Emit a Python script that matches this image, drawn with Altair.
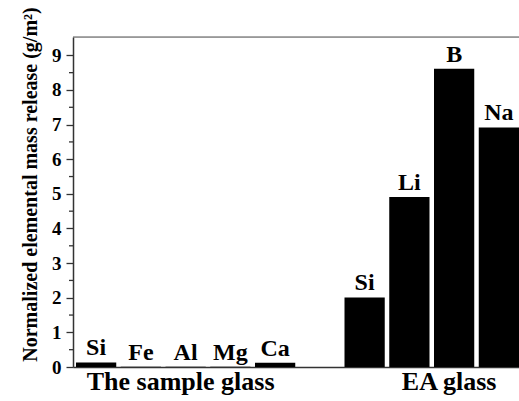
import altair as alt
import pandas as pd

# ---- data ----
sample_elements = ["Si", "Fe", "Al", "Mg", "Ca"]
sample_values = [0.13, 0.01, 0.01, 0.01, 0.12]
ea_elements = ["Si", "Li", "B", "Na"]
ea_values = [2.01, 4.91, 8.61, 6.92]
group_names = ["The sample glass", "EA glass"]
y_ticks = [0, 1, 2, 3, 4, 5, 6, 7, 8, 9]
y_minor = [0.5, 1.5, 2.5, 3.5, 4.5, 5.5, 6.5, 7.5, 8.5]

sample_keys = ["sample|" + e for e in sample_elements]
ea_keys = ["ea|" + e for e in ea_elements]
x_domain = sample_keys + ["gap"] + ea_keys

bars = pd.DataFrame({
    "key": sample_keys + ea_keys,
    "element": sample_elements + ea_elements,
    "value": sample_values + ea_values,
})
groups = pd.DataFrame({
    "group": group_names,
    "anchor": [sample_keys[2], ea_keys[2]],
})
minor = pd.DataFrame({"v": y_minor})

FONT = "Liberation Serif"
W, H = 446, 330

xscale = alt.Scale(domain=x_domain, paddingInner=0.1006, paddingOuter=0.0335, align=1)
yscale = alt.Scale(domain=[0, 9.53], nice=False, zero=True)

x_axis = alt.Axis(labels=False, ticks=False, title=None, domain=True,
                  domainColor="#333", domainWidth=1.5, grid=False)
y_axis = alt.Axis(values=y_ticks,
                  title="Normalized elemental mass release (g/m²)",
                  titleFont=FONT, titleFontSize=20, titleFontWeight="bold",
                  titleColor="black", titleAngle=-90, titleX=-37, titleY=147,
                  titleAlign="center", titleBaseline="alphabetic",
                  labelFont=FONT, labelFontSize=19, labelFontWeight="bold",
                  labelColor="black", labelPadding=5, labelOverlap=False,
                  labelBaseline="middle",
                  tickSize=7, tickWidth=1.3, tickColor="#333",
                  domainColor="#333", domainWidth=1.5, grid=False)

X = alt.X("key:N", scale=xscale, sort=x_domain, axis=x_axis, title=None)
Y = alt.Y("value:Q", scale=yscale, axis=y_axis,
          title="Normalized elemental mass release (g/m²)")

base = alt.Chart(bars)

bar = base.mark_bar(color="black").encode(x=X, y=Y)

labels = base.mark_text(font=FONT, fontSize=24, fontWeight="bold", color="black",
                        baseline="alphabetic", dy=-7).encode(
    x=X, y=Y, text="element:N",
)

group_text = alt.Chart(groups).mark_text(font=FONT, fontSize=26, fontWeight="bold",
                                         color="black", baseline="alphabetic", dx=-5).encode(
    x=alt.X("anchor:N", scale=xscale, sort=x_domain, axis=x_axis, title=None),
    y=alt.value(353),
    text="group:N",
)

minor_ticks = alt.Chart(minor).mark_rule(color="#333", strokeWidth=1.3).encode(
    x=alt.value(-4), x2=alt.value(0),
    y=alt.Y("v:Q", scale=yscale, axis=y_axis,
            title="Normalized elemental mass release (g/m²)"),
)

top_line = alt.Chart(alt.Data(values=[{"a": 1}])).mark_rule(color="#555", strokeWidth=1.2).encode(
    x=alt.value(0), x2=alt.value(W), y=alt.value(0),
)

chart = alt.layer(bar, labels, group_text, minor_ticks, top_line).properties(
    width=W, height=H,
    autosize=alt.AutoSizeParams(type="none"),
    padding={"left": 73, "top": 37, "right": 0, "bottom": 34},
).configure_view(stroke=None).configure(background="white")

chart.save("out.html", embed_options={"renderer": "svg", "actions": False})
